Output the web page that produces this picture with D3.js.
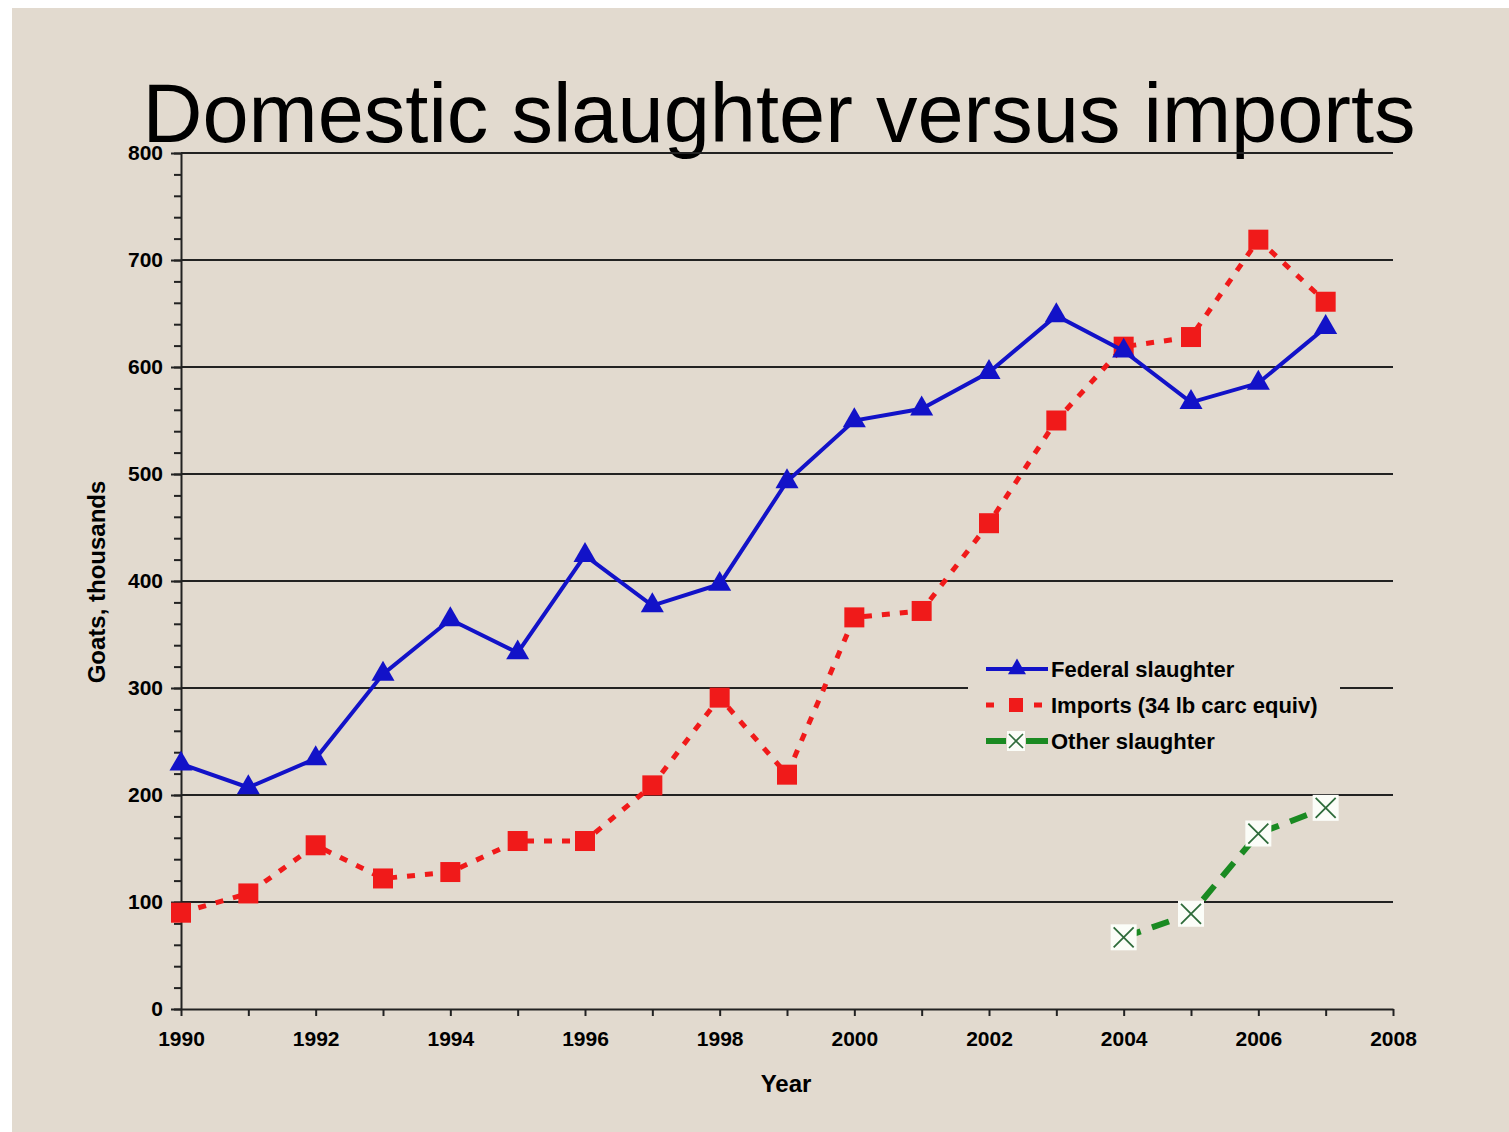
<!DOCTYPE html>
<html>
<head>
<meta charset="utf-8">
<script src="https://cdn.jsdelivr.net/npm/d3@7"></script>
<style>
  body { margin: 0; background: #fff; }
  text { font-family: "Liberation Sans", Arial, sans-serif; }
</style>
</head>
<body>
<div id="chart"></div>
<script>
// chart data
const years = d3.range(1990, 2008);
const federal = [229, 207, 234, 313, 364, 333, 424, 377, 397, 493, 550, 561, 595, 648, 615, 567, 585, 637];
const imports = [90, 108, 153, 122, 128, 157, 157, 209, 291, 219, 366, 372, 454, 550, 619, 628, 719, 661];
const otherYears = [2004, 2005, 2006, 2007];
const other = [67, 89, 164, 188];
const yTicks = [0, 100, 200, 300, 400, 500, 600, 700, 800];
const xTicks = [1990, 1992, 1994, 1996, 1998, 2000, 2002, 2004, 2006, 2008];

const W = 1509, H = 1132;
const margin = { top: 153, right: 116, bottom: 123, left: 181 };
const width = W - margin.left - margin.right;
const height = H - margin.top - margin.bottom;

const svg = d3.select("#chart").append("svg")
  .attr("width", W).attr("height", H);

// slide background
svg.append("rect")
  .attr("x", 12).attr("y", 8)
  .attr("width", W - 12).attr("height", H - 8)
  .attr("fill", "#e2dacf");

svg.append("text")
  .attr("x", 779).attr("y", 142)
  .attr("text-anchor", "middle")
  .attr("font-size", 83)
  .attr("fill", "#000")
  .text("Domestic slaughter versus imports");

const g = svg.append("g").attr("transform", `translate(${margin.left},${margin.top})`);

const x = d3.scaleLinear().domain([1990, 2008]).range([0, width]);
const y = d3.scaleLinear().domain([0, 800]).range([height, 0]);

// gridlines
g.append("g")
  .selectAll("line")
  .data(yTicks.filter(d => d > 0))
  .join("line")
  .attr("x1", 0).attr("x2", width)
  .attr("y1", d => y(d)).attr("y2", d => y(d))
  .attr("stroke", "#222").attr("stroke-width", 2);

// minor y ticks
g.append("g")
  .call(d3.axisLeft(y).tickValues(d3.range(0, 801, 20)).tickSize(7).tickFormat(""))
  .call(a => a.select(".domain").remove())
  .selectAll("line").attr("stroke", "#222").attr("stroke-width", 2);

// y axis
const yAxis = g.append("g")
  .call(d3.axisLeft(y).tickValues(yTicks).tickSize(10).tickPadding(8).tickSizeOuter(0));
yAxis.select(".domain").attr("stroke", "#222").attr("stroke-width", 2);
yAxis.selectAll("line").attr("stroke", "#222").attr("stroke-width", 2);
yAxis.selectAll("text")
  .attr("font-size", 21).attr("font-weight", "bold")
  .attr("font-family", "'Liberation Sans', Arial, sans-serif")
  .attr("fill", "#000");

// x axis
const xAxis = g.append("g")
  .attr("transform", `translate(0,${height})`)
  .call(d3.axisBottom(x).tickValues(d3.range(1990, 2009)).tickSize(7).tickFormat("").tickSizeOuter(0));
xAxis.select(".domain").attr("stroke", "#222").attr("stroke-width", 2);
xAxis.selectAll("line").attr("stroke", "#222").attr("stroke-width", 2);

g.append("g")
  .attr("transform", `translate(0,${height})`)
  .call(d3.axisBottom(x).tickValues(xTicks).tickSize(0).tickPadding(22).tickFormat(d3.format("d")))
  .call(a => a.select(".domain").remove())
  .selectAll("text")
  .attr("font-size", 21).attr("font-weight", "bold")
  .attr("font-family", "'Liberation Sans', Arial, sans-serif")
  .attr("fill", "#000");

// axis titles
svg.append("text")
  .attr("transform", "translate(105,582) rotate(-90)")
  .attr("text-anchor", "middle")
  .attr("font-size", 24).attr("font-weight", "bold")
  .attr("fill", "#000")
  .text("Goats, thousands");

svg.append("text")
  .attr("x", 786).attr("y", 1092)
  .attr("text-anchor", "middle")
  .attr("font-size", 24).attr("font-weight", "bold")
  .attr("fill", "#000")
  .text("Year");

const blue = "#1212c8", red = "#f01a1a", green = "#1a8a22";

const line = d3.line().x(d => x(d[0])).y(d => y(d[1]));
const fedPts = years.map((yr, i) => [yr, federal[i]]);
const impPts = years.map((yr, i) => [yr, imports[i]]);
const othPts = otherYears.map((yr, i) => [yr, other[i]]);

// imports
g.append("path").datum(impPts)
  .attr("d", line).attr("fill", "none")
  .attr("stroke", red).attr("stroke-width", 5)
  .attr("stroke-dasharray", "8,10");
g.append("g").selectAll("rect").data(impPts).join("rect")
  .attr("x", d => x(d[0]) - 10).attr("y", d => y(d[1]) - 10)
  .attr("width", 20).attr("height", 20)
  .attr("fill", red);

// federal
g.append("path").datum(fedPts)
  .attr("d", line).attr("fill", "none")
  .attr("stroke", blue).attr("stroke-width", 4);
const tri = d3.symbol().type(d3.symbolTriangle).size(230);
g.append("g").selectAll("path").data(fedPts).join("path")
  .attr("transform", d => `translate(${x(d[0])},${y(d[1])})`)
  .attr("d", tri).attr("fill", blue);

// other
g.append("path").datum(othPts)
  .attr("d", line).attr("fill", "none")
  .attr("stroke", green).attr("stroke-width", 6)
  .attr("stroke-dasharray", "18,12");
const om = g.append("g").selectAll("g").data(othPts).join("g")
  .attr("transform", d => `translate(${x(d[0])},${y(d[1])})`);
om.append("rect").attr("x", -13).attr("y", -13).attr("width", 26).attr("height", 26).attr("fill", "#fbfdf8");
om.append("path").attr("d", "M-10,-10L10,10M-10,10L10,-10")
  .attr("stroke", "#2e6b3a").attr("stroke-width", 1.8);

// legend
const legend = svg.append("g").attr("transform", "translate(968,650)");
legend.append("rect").attr("x", 0).attr("y", 0).attr("width", 372).attr("height", 110).attr("fill", "#e2dacf");
const items = [
  { label: "Federal slaughter", color: blue, w: 4, mark: "tri" },
  { label: "Imports (34 lb carc equiv)", color: red, w: 5, mark: "sq" },
  { label: "Other slaughter", color: green, w: 6, mark: "x" }
];
items.forEach((it, i) => {
  const row = legend.append("g").attr("transform", `translate(0,${19 + i * 36})`);
  if (it.mark === "x") {
    row.append("line").attr("x1", 18).attr("x2", 38).attr("stroke", it.color).attr("stroke-width", it.w);
    row.append("line").attr("x1", 58).attr("x2", 80).attr("stroke", it.color).attr("stroke-width", it.w);
    row.append("rect").attr("x", 39).attr("y", -10).attr("width", 18).attr("height", 20).attr("fill", "#fbfdf8");
    row.append("path").attr("d", "M41,-7L55,7M41,7L55,-7").attr("stroke", "#2e6b3a").attr("stroke-width", 1.6);
  } else if (it.mark === "sq") {
    row.append("line").attr("x1", 18).attr("x2", 80).attr("stroke", it.color).attr("stroke-width", it.w)
      .attr("stroke-dasharray", "8,16");
    row.append("rect").attr("x", 41).attr("y", -7).attr("width", 14).attr("height", 14).attr("fill", it.color);
  } else {
    row.append("line").attr("x1", 18).attr("x2", 80).attr("stroke", it.color).attr("stroke-width", it.w);
    row.append("path").attr("transform", "translate(49,0)").attr("d", d3.symbol().type(d3.symbolTriangle).size(140)).attr("fill", it.color);
  }
  row.append("text").attr("x", 83).attr("y", 8)
    .attr("font-size", 22).attr("font-weight", "bold").attr("fill", "#000")
    .text(it.label);
});
</script>
</body>
</html>
